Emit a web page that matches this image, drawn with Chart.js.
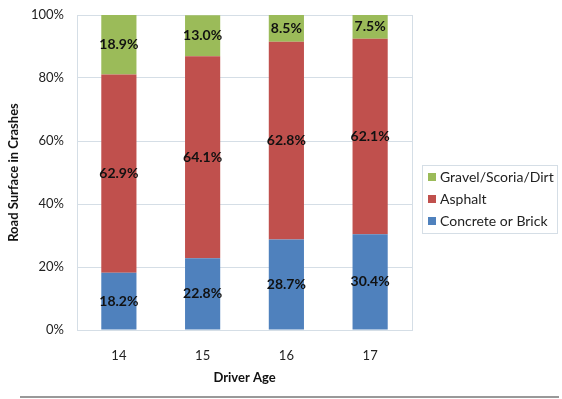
<!DOCTYPE html>
<html>
<head>
<meta charset="utf-8">
<script src="https://cdn.jsdelivr.net/npm/chart.js@4/dist/chart.umd.min.js"></script>
<style>
  html, body { margin: 0; padding: 0; background: #ffffff; }
  #wrap { width: 562px; height: 399px; }
</style>
</head>
<body>
<div id="wrap"><canvas id="c" width="562" height="399"></canvas></div>
<script>
const categories = ['14', '15', '16', '17'];
const concreteBrick = [18.2, 22.8, 28.7, 30.4];
const asphalt = [62.9, 64.1, 62.8, 62.1];
const gravelScoriaDirt = [18.9, 13.0, 8.5, 7.5];
const yTicks = [0, 20, 40, 60, 80, 100];

const FONT = 'Lato, "Open Sans", "Liberation Sans", sans-serif';

const dataLabels = {
  id: 'dataLabels',
  afterDatasetsDraw(chart) {
    const ctx = chart.ctx;
    ctx.save();
    ctx.font = 'bold 14px ' + FONT;
    ctx.fillStyle = '#111111';
    ctx.textAlign = 'center';
    ctx.textBaseline = 'middle';
    chart.data.datasets.forEach((ds, i) => {
      const meta = chart.getDatasetMeta(i);
      meta.data.forEach((el, j) => {
        const v = ds.data[j];
        const y = (el.y + el.base) / 2;
        ctx.fillText(v.toFixed(1) + '%', el.x, y);
      });
    });
    ctx.restore();
  }
};

const frame = {
  id: 'frame',
  beforeDatasetsDraw(chart) {
    const {ctx, chartArea: a} = chart;
    ctx.save();
    ctx.strokeStyle = '#d5dee6';
    ctx.lineWidth = 1;
    ctx.strokeRect(Math.round(a.left) + 0.5, Math.round(a.top) + 0.5, Math.round(a.right - a.left), Math.round(a.bottom - a.top));
    ctx.restore();
  },
  afterDraw(chart) {
    const ctx = chart.ctx;
    const a = chart.chartArea;
    ctx.save();
    const ds = chart.data.datasets.slice().reverse();
    const bx = a.right + 10, by = 165, bw = 135, bh = 68;
    ctx.strokeStyle = '#d5dee6';
    ctx.lineWidth = 1;
    ctx.strokeRect(bx + 0.5, by + 0.5, bw, bh);
    ctx.font = '14px ' + FONT;
    ctx.textBaseline = 'middle';
    ctx.textAlign = 'left';
    ds.forEach((d, i) => {
      const y = by + 12 + i * 22;
      ctx.fillStyle = d.backgroundColor;
      ctx.fillRect(bx + 6, y - 4, 8, 8);
      ctx.fillStyle = '#222222';
      ctx.fillText(d.label, bx + 18, y);
    });
    ctx.strokeStyle = '#999999';
    ctx.lineWidth = 2;
    ctx.beginPath();
    ctx.moveTo(20, 397);
    ctx.lineTo(559, 397);
    ctx.stroke();
    ctx.restore();
  }
};

new Chart(document.getElementById('c'), {
  type: 'bar',
  data: {
    labels: categories,
    datasets: [
      { label: 'Concrete or Brick', data: concreteBrick, backgroundColor: '#4f81bd' },
      { label: 'Asphalt', data: asphalt, backgroundColor: '#c0504d' },
      { label: 'Gravel/Scoria/Dirt', data: gravelScoriaDirt, backgroundColor: '#9bbb59' }
    ]
  },
  options: {
    responsive: false,
    animation: false,
    devicePixelRatio: 1,
    layout: { padding: { top: 15, right: 150, left: 0, bottom: 0 } },
    datasets: { bar: { categoryPercentage: 1, barPercentage: 0.42 } },
    plugins: { legend: { display: false }, tooltip: { enabled: false } },
    scales: {
      x: {
        stacked: true,
        grid: { display: false, drawTicks: false },
        border: { display: true, color: '#a6a6a6', width: 1 },
        ticks: { color: '#222222', font: { family: FONT, size: 13 }, padding: 18 },
        title: { display: true, text: 'Driver Age', color: '#111111', font: { family: FONT, size: 13, weight: 'bold' }, padding: { top: 0, bottom: 13 } },
        afterFit(scale) { scale.height = 69; scale.paddingLeft = 0; scale.paddingRight = 0; }
      },
      y: {
        stacked: true,
        min: 0, max: 100,
        afterBuildTicks(scale) { scale.ticks = yTicks.map(v => ({ value: v })); },
        grid: { color: '#d5dee6', drawTicks: false },
        border: { display: false },
        ticks: { color: '#222222', font: { family: FONT, size: 13 }, padding: 13, callback: v => v + '%' },
        title: { display: true, text: 'Road Surface in Crashes', color: '#111111', font: { family: FONT, size: 13, weight: 'bold' }, padding: { top: 6, bottom: 0 } },
        afterFit(scale) { scale.width = 77; scale.paddingTop = 0; scale.paddingBottom = 0; }
      }
    }
  },
  plugins: [frame, dataLabels]
});
</script>
</body>
</html>
